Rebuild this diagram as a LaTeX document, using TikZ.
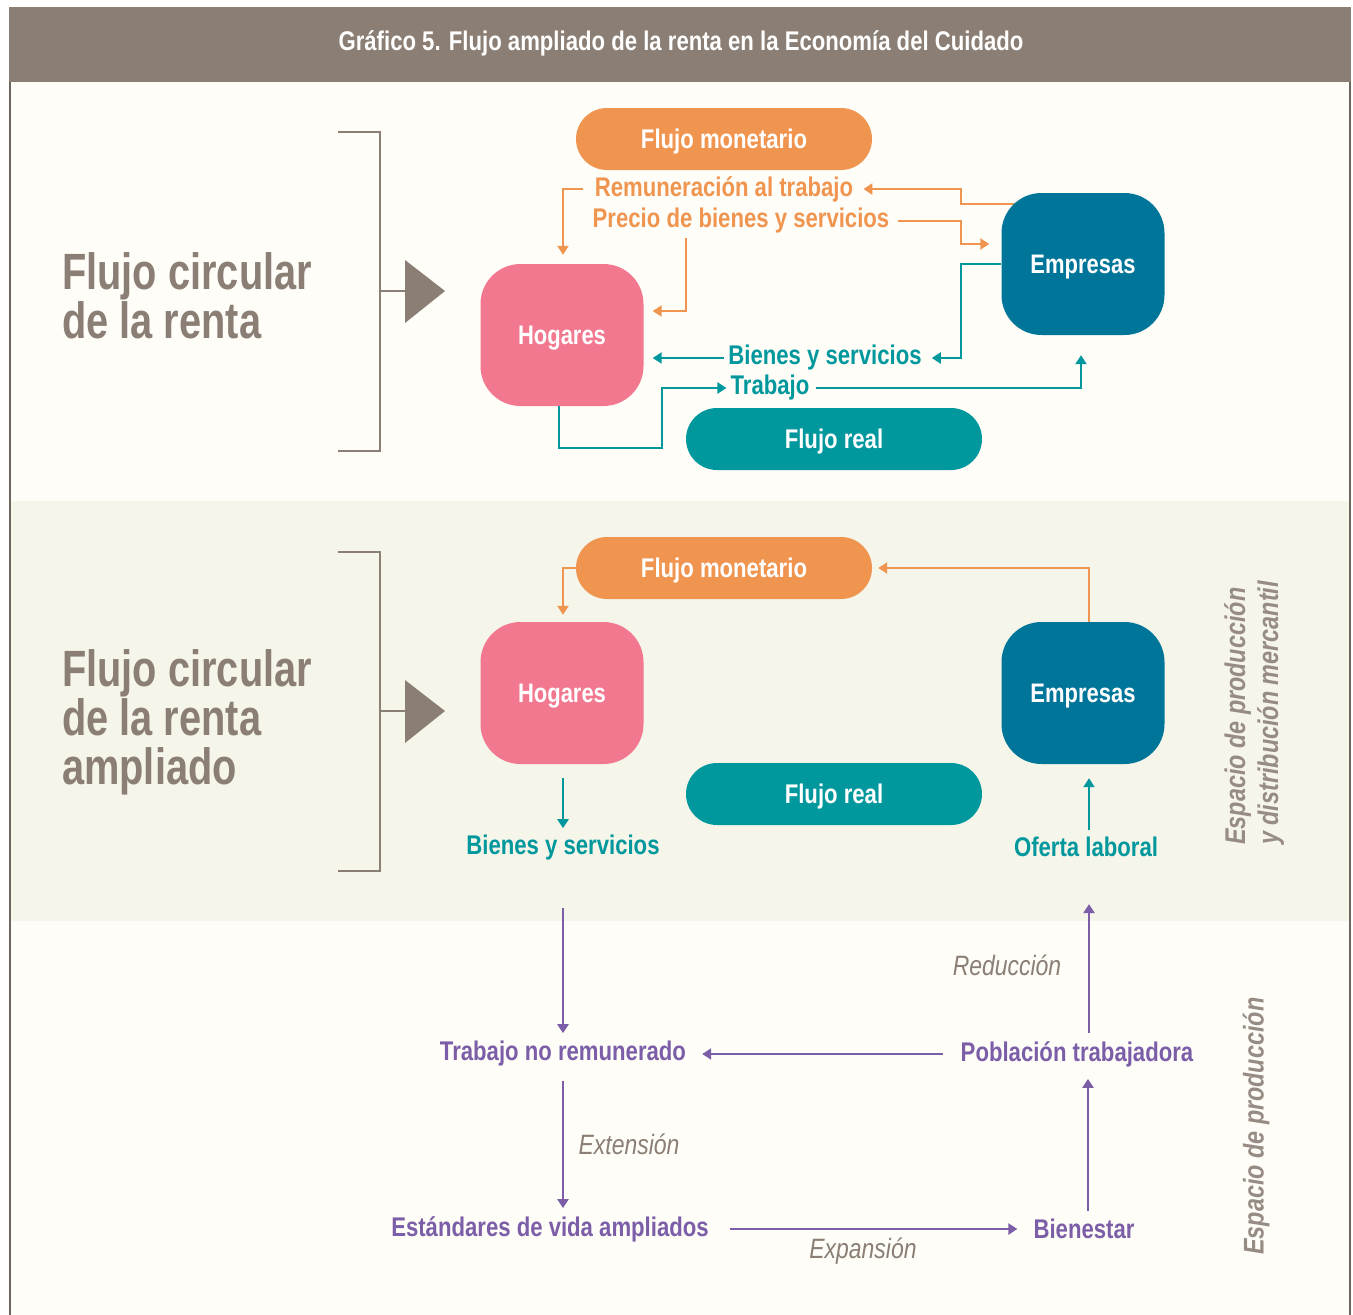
\documentclass[tikz,border=0pt]{standalone}
\usepackage{fontspec}
\setmainfont{Liberation Sans}[FakeStretch=0.82]
\newfontfamily\bigfam{Liberation Sans}[FakeStretch=0.78]
\usetikzlibrary{arrows.meta,calc}
\definecolor{hdr}{HTML}{8B7F75}
\definecolor{creamc}{HTML}{FEFDF8}
\definecolor{bandc}{HTML}{F5F5EA}
\definecolor{orng}{HTML}{F0954F}
\definecolor{pinkc}{HTML}{F27890}
\definecolor{empb}{HTML}{00759A}
\definecolor{tealc}{HTML}{00979D}
\definecolor{purp}{HTML}{7B5EA7}
\definecolor{gtxt}{HTML}{8B7F75}
\definecolor{frame}{HTML}{6E655E}
\pgfdeclarelayer{back}
\pgfdeclarelayer{lines}
\pgfsetlayers{back,lines,main}
\tikzset{
  box/.style={rounded corners=40pt, minimum width=163pt, minimum height=142pt, inner sep=0pt, text height=20pt, text depth=0.5pt, text=white, font=\bfseries\fontsize{26.8}{30}\selectfont},
  pill/.style={rounded corners=31pt, minimum width=296pt, minimum height=62pt, inner sep=0pt, text height=20pt, text depth=0.5pt, text=white, font=\bfseries\fontsize{27}{30}\selectfont},
  lab/.style={inner sep=4pt, font=\bfseries\fontsize{27}{30}\selectfont},
  ilab/.style={inner sep=2pt, text=gtxt, font=\itshape\fontsize{28}{30}\selectfont},
  big/.style={inner sep=0pt, text=gtxt, align=left, anchor=west, font=\bigfam\bfseries\fontsize{51}{49}\selectfont},
  side/.style={inner sep=0pt, text=gtxt!90, align=left, rotate=90, anchor=west, font=\bfseries\itshape\fontsize{28.5}{33}\selectfont},
  tip/.style={-{Triangle[length=9pt,width=11pt]}},
  oarr/.style={draw=orng, line width=2.5pt, tip},
  tarr/.style={draw=tealc, line width=2.5pt, tip},
  parr/.style={draw=purp, line width=2.5pt, tip},
  brk/.style={draw=hdr, line width=2.2pt},
}
\begin{document}
\begin{tikzpicture}[x=1pt,y=-1pt]
\useasboundingbox (0,0) rectangle (1353,1315);
\begin{pgfonlayer}{back}
\fill[white] (0,0) rectangle (1353,1315);
\fill[creamc] (10,82) rectangle (1350,1315);
\fill[bandc] (11,501) rectangle (1349,921);
\fill[hdr] (9,7) rectangle (1351,82);
\draw[frame, line width=2pt] (10,82) -- (10,1315);
\draw[frame, line width=2pt] (1350,82) -- (1350,1315);
\end{pgfonlayer}

\node[inner sep=0pt, text=white, font=\bfseries\fontsize{27}{30}\selectfont] (title) at (681,43) {Gráfico 5. Flujo ampliado de la renta en la Economía del Cuidado};

% brackets
\node[big] (h1) at (62,296) {Flujo circular\\de la renta};
\node[big] (h2) at (62,722) {Flujo circular\\de la renta\\ampliado};
\coordinate (b1t) at (338,132);
\coordinate (b1b) at (338,451);
\coordinate (b1m) at (380,291);
\draw[brk] (b1t) -- (380,132) -- (380,451) -- (b1b);
\draw[brk] (b1m) -- (407,291);
\fill[hdr] (405,260) -- (445,291) -- (405,323) -- cycle;
\coordinate (b2t) at (338,552);
\coordinate (b2b) at (338,871);
\coordinate (b2m) at (380,711);
\draw[brk] (b2t) -- (380,552) -- (380,871) -- (b2b);
\draw[brk] (b2m) -- (407,711);
\fill[hdr] (405,680) -- (445,711) -- (405,743) -- cycle;

% section 1
\node[pill, fill=orng] (fm1) at (724,139) {Flujo monetario};
\node[box, fill=pinkc] (hog1) at (562,335) {Hogares};
\node[box, fill=empb] (emp1) at (1083,264) {Empresas};
\node[pill, fill=tealc] (fr1) at (834,439) {Flujo real};
\node[lab, text=orng] (rem) at (724,189) {Remuneración al trabajo};
\node[lab, text=orng] (prec) at (741,221) {Precio de bienes y servicios};
\node[lab, text=tealc] (bys1) at (825,358) {Bienes y servicios};
\node[lab, text=tealc] (trab) at (770,388) {Trabajo};

\begin{pgfonlayer}{lines}
\draw[oarr, shorten <=6pt] (emp1.center |- 0,204) -- (961,204) |- ([xshift=6pt]rem.east);
\draw[oarr, shorten >=9pt] ([xshift=-8pt]rem.west) -| ([xshift=1pt]hog1.north);
\draw[oarr] ([xshift=4pt]prec.east) -| (961,244) -- ([xshift=-12pt,yshift=20pt]emp1.west);
\draw[oarr] ([xshift=-55pt]prec.south) |- ([xshift=9pt,yshift=24pt]hog1.east);
\draw[tarr] (emp1.west) -- (961,264) |- ([xshift=6pt]bys1.east);
\draw[tarr, shorten >=9pt] (bys1.west) -- (bys1.west -| hog1.east);
\draw[tarr] ([xshift=-3pt]hog1.south) |- (662,448) |- (trab.west);
\draw[tarr, shorten >=20pt] ([xshift=2pt]trab.east) -| ([xshift=-2pt]emp1.south);
\end{pgfonlayer}

% section 2
\node[pill, fill=orng] (fm2) at (724,568) {Flujo monetario};
\node[box, fill=pinkc] (hog2) at (562,693) {Hogares};
\node[box, fill=empb] (emp2) at (1083,693) {Empresas};
\node[pill, fill=tealc] (fr2) at (834,794) {Flujo real};
\node[lab, text=tealc] (bys2) at (563,848) {Bienes y servicios};
\node[lab, text=tealc] (ofl) at (1086,847) {Oferta laboral};

\begin{pgfonlayer}{lines}
\draw[oarr, shorten >=6pt] ([xshift=6pt]emp2.north) |- (fm2.east);
\draw[oarr, shorten >=7pt] ([xshift=4pt]fm2.west) -| ([xshift=1pt]hog2.north);
\draw[tarr, shorten <=14pt, shorten >=3pt] ([xshift=1pt]hog2.south) -- (bys2.north);
\draw[tarr, shorten <=3pt, shorten >=14pt] ([xshift=3pt]ofl.north) -- ([xshift=6pt]emp2.south);
\end{pgfonlayer}

% section 3
\node[lab, text=purp] (tnr) at (563,1054) {Trabajo no remunerado};
\node[lab, text=purp] (pob) at (1077,1054) {Población trabajadora};
\node[lab, text=purp] (evida) at (550,1229) {Estándares de vida ampliados};
\node[lab, text=purp] (bien) at (1084,1229) {Bienestar};
\node[ilab] (red) at (1007,965) {Reducción};
\node[ilab] (ext) at (629,1144) {Extensión};
\node[ilab] (exp) at (863,1251) {Expansión};

\draw[parr, shorten <=43pt, shorten >=4pt] (bys2.south) -- (tnr.north);
\draw[parr, shorten <=14pt, shorten >=12pt] (pob.west) -- (tnr.east);
\draw[parr, shorten <=4pt, shorten >=43pt] ([xshift=12pt]pob.north) -- ([xshift=3pt]ofl.south);
\draw[parr, shorten <=10pt, shorten >=4pt] (tnr.south) -- (tnr.south |- evida.north);
\draw[parr, shorten <=17pt, shorten >=12pt] (evida.east) -- (bien.west);
\draw[parr, shorten <=4pt, shorten >=8pt] ([xshift=4pt]bien.north) -- ([xshift=11pt]pob.south);

% side texts
\node[side] (s1) at (1254,845) {Espacio de producción\\y distribución mercantil};
\node[side] (s2) at (1256,1255) {Espacio de producción};
\end{tikzpicture}
\end{document}
